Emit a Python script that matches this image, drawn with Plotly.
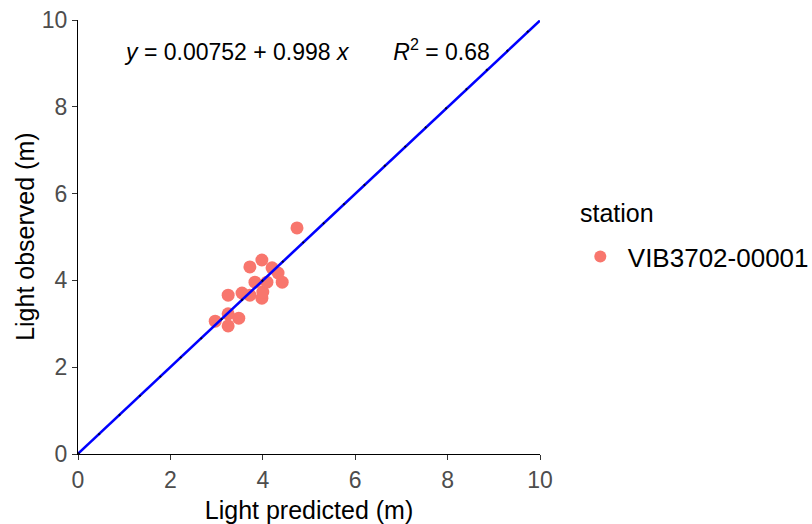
import plotly.graph_objects as go

# Observed vs predicted light depth for one station
predicted = [2.97, 3.25, 3.48, 3.25, 3.25, 3.55, 3.72, 3.98, 4.00,
             3.72, 3.98, 4.20, 4.42, 3.83, 4.09, 4.33, 4.74]
observed = [3.06, 3.23, 3.13, 2.95, 3.66, 3.71, 3.66, 3.59, 3.73,
            4.31, 4.47, 4.29, 3.96, 3.96, 3.96, 4.17, 5.21]
station = "VIB3702-00001"

# Fitted regression line coefficients
intercept = 0.00752
slope = 0.998
r_squared = 0.68

tick_vals = [0, 2, 4, 6, 8, 10]
line_x = [0, 10]
line_y = [intercept + slope * v for v in line_x]

FONT = "Liberation Sans, Arial, sans-serif"

fig = go.Figure()

fig.add_trace(go.Scatter(
    x=predicted, y=observed, mode="markers", name=station,
    marker=dict(color="#F8766D", size=13, line=dict(width=0)),
))

fig.add_trace(go.Scatter(
    x=line_x, y=line_y, mode="lines", showlegend=False,
    line=dict(color="#0000FF", width=2.6), hoverinfo="skip",
))
# 1:1 reference line peeking through the fit line
fig.add_trace(go.Scatter(
    x=line_x, y=line_x, mode="lines", showlegend=False,
    line=dict(color="rgba(0,0,0,0.85)", width=2, dash="2px,26px"),
    hoverinfo="skip",
))

fig.add_annotation(
    x=4.96, y=9.3, xref="x", yref="y", showarrow=False,
    text=f"<i>y</i> = {intercept} + {slope} <i>x</i>"
         f"       <i>R</i><sup>2</sup> = {r_squared}",
    font=dict(family=FONT, size=23, color="#000000"),
)

# legend heading, placed separately for finer spacing control
fig.add_annotation(
    x=1.082, y=0.555, xref="paper", yref="paper", xanchor="left",
    yanchor="middle", showarrow=False, text="station",
    font=dict(family=FONT, size=25, color="#000000"),
)

# y-axis title
fig.add_annotation(
    x=-0.115, y=0.5, xref="paper", yref="paper", xanchor="center",
    yanchor="middle", showarrow=False, textangle=-90,
    text="Light observed (m)",
    font=dict(family=FONT, size=25, color="#000000"),
)

axis_common = dict(
    range=[0, 10], tickvals=tick_vals, ticks="outside", ticklen=5,
    tickwidth=1, tickcolor="#333333", showline=True, linecolor="#000000",
    linewidth=1, showgrid=False, zeroline=False, automargin=False,
    tickfont=dict(family=FONT, size=23, color="#4D4D4D"),
)

fig.update_layout(
    width=812, height=524,
    margin=dict(l=78, r=272, t=20, b=70, autoexpand=False),
    plot_bgcolor="white", paper_bgcolor="white",
    font=dict(family=FONT, color="#000000"),
    xaxis=dict(axis_common, title=dict(text="Light predicted (m)",
               font=dict(size=25))),
    yaxis=dict(axis_common),
    legend=dict(
        font=dict(size=26), x=1.071, y=0.455, xanchor="left",
        yanchor="middle", itemsizing="constant", itemwidth=45,
    ),
)

fig.write_html("out.html")
